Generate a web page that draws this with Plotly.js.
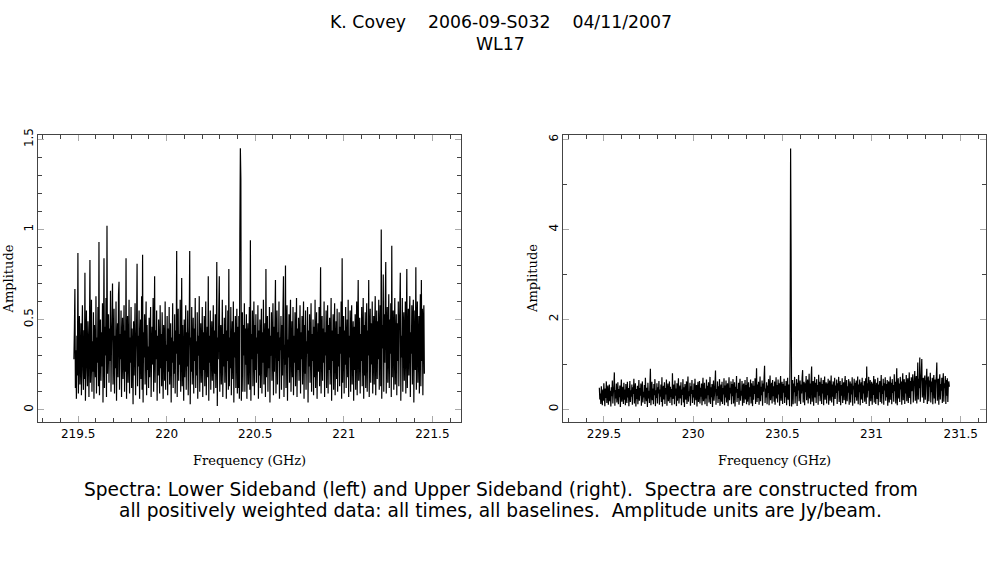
<!DOCTYPE html>
<html>
<head>
<meta charset="utf-8">
<script src="https://cdn.plot.ly/plotly-3.0.1.min.js"></script>
<style>html,body{margin:0;padding:0;background:#fff;}#chart{width:987px;height:567px;}</style>
</head>
<body>
<div id="chart"></div>
<script>
// Lower sideband channel grid (GHz)
const lsbStart = 219.476;
const lsbStep = 0.002831;
// Lower sideband amplitudes (Jy/beam)
const lsbAmp = [
.28,.45,.67,.12,.33,.06,.41,.19,.87,.09,.35,.52,.14,.27,.48,.08,.39,.58,.22,.11,.44,.17,.76,.05,.31,.55,.25,.13,.49,.36,.07,.42,.83,.15,.29,.61,.10,.38,.21,.54,.06,.47,.32,.18,.63,.09,.40,.26,.57,.13,
.93,.08,.36,.50,.16,.43,.24,.59,.04,.34,.84,.12,.46,.30,.62,.07,1.02,.20,.39,.53,.15,.45,.27,.66,.10,.37,.49,.70,.14,.31,.56,.09,.41,.23,.60,.05,.35,.48,.18,.64,.71,.11,.42,.28,.55,.07,.38,.51,.17,.33,
.58,.10,.44,.21,.84,.06,.37,.52,.15,.30,.61,.09,.40,.26,.57,.12,.45,.34,.03,.49,.19,.38,.59,.08,.32,.46,.81,.13,.41,.24,.55,.06,.36,.50,.17,.63,.11,.86,.04,.43,.29,.53,.14,.39,.60,.08,.47,.22,.35,.12,
.51,.18,.40,.57,.07,.33,.46,.25,.62,.10,.37,.74,.15,.44,.28,.55,.05,.41,.19,.50,.34,.09,.58,.23,.42,.13,.54,.31,.06,.47,.39,.16,.60,.11,.36,.27,.52,.08,.45,.21,.57,.14,.33,.48,.04,.40,.26,.59,.12,.38,
.20,.53,.09,.44,.31,.88,.07,.39,.56,.16,.42,.25,.61,.10,.35,.73,.13,.47,.29,.05,.50,.18,.37,.58,.11,.43,.24,.55,.08,.34,.46,.88,.03,.40,.21,.57,.14,.32,.51,.09,.45,.27,.62,.12,.38,.19,.54,.06,.41,.30,
.63,.10,.36,.48,.15,.29,.57,.07,.43,.22,.52,.13,.39,.60,.08,.33,.46,.18,.74,.05,.41,.26,.55,.11,.37,.49,.16,.31,.58,.09,.44,.20,.53,.12,.35,.82,.02,.40,.28,.56,.74,.10,.38,.47,.14,.30,.61,.07,.42,.24,
.51,.15,.36,.58,.06,.44,.27,.55,.11,.78,.13,.40,.23,.57,.08,.35,.49,.17,.60,.04,.43,.29,.52,.12,.38,.56,.09,.46,.12,.52,.06,.98,1.45,1.28,.05,.37,.54,.10,.47,.30,.59,.10,.45,.25,.53,.06,.39,.48,.14,.32,
.57,.11,.94,.05,.42,.28,.55,.13,.36,.60,.08,.47,.22,.53,.15,.40,.31,.58,.06,.44,.19,.50,.12,.37,.56,.09,.43,.26,.61,.14,.34,.48,.07,.78,.18,.39,.52,.10,.45,.23,.57,.04,.41,.30,.54,.16,.35,.59,.08,.46,
.21,.50,.72,.09,.38,.55,.14,.43,.27,.60,.06,.40,.33,.52,.11,.47,.19,.56,.74,.07,.36,.25,.80,.12,.44,.58,.05,.39,.29,.53,.15,.46,.61,.10,.34,.49,.18,.57,.08,.41,.26,.54,.13,.37,.62,.07,.45,.22,.51,.16,
.35,.58,.09,.43,.28,.52,.14,.40,.60,.06,.47,.20,.55,.11,.38,.31,.57,.04,.44,.24,.53,.15,.36,.59,.10,.42,.27,.50,.08,.46,.18,.61,.12,.39,.54,.06,.33,.48,.21,.57,.13,.41,.79,.09,.37,.52,.16,.45,.26,.60,
.07,.43,.30,.55,.12,.38,.58,.09,.47,.22,.51,.14,.36,.62,.05,.44,.27,.53,.11,.40,.59,.08,.35,.49,.17,.56,.10,.42,.24,.54,.13,.46,.31,.60,.06,.84,.15,.39,.52,.09,.44,.25,.57,.12,.37,.50,.18,.61,.07,.41,
.29,.55,.10,.43,.58,.14,.36,.49,.05,.46,.22,.53,.11,.40,.60,.08,.45,.72,.16,.34,.51,.09,.42,.27,.57,.13,.38,.62,.06,.47,.19,.54,.12,.36,.59,.10,.44,.30,.72,.07,.41,.56,.15,.48,.25,.60,.09,.39,.52,.14,
.45,.63,.08,.37,.55,.17,.49,.28,.61,.11,.42,.58,.13,1.00,.06,.47,.34,.75,.10,.53,.26,.60,.82,.09,.44,.57,.15,.39,.64,.12,.50,.31,.59,.07,.91,.18,.46,.55,.11,.40,.62,.14,.36,.53,.08,.48,.27,.60,.13,.44,
.57,.76,.05,.41,.29,.62,.10,.47,.54,.16,.38,.60,.09,.45,.78,.12,.35,.56,.19,.50,.63,.07,.43,.31,.58,.14,.48,.61,.04,.39,.55,.22,.79,.11,.46,.60,.15,.37,.52,.09,.44,.64,.13,.72,.27,.56,.08,.49,.58,.20
];
// Upper sideband channel grid (GHz)
const usbStart = 229.474;
const usbStep = 0.002807;
// Upper sideband amplitudes (Jy/beam)
const usbAmp = [
.48,.22,.35,.12,.51,.28,.09,.44,.19,.58,.31,.07,.46,.25,.62,.14,.39,.53,.10,.33,.55,.18,.41,.06,.49,.29,.64,.13,.37,.52,.82,.08,.43,.24,.57,.15,.34,.60,.11,.45,.27,.53,.05,.40,.66,.17,.36,.50,.12,.59,
.21,.44,.09,.56,.32,.14,.61,.26,.47,.07,.38,.63,.16,.42,.28,.55,.10,.49,.34,.68,.13,.40,.58,.06,.45,.23,.52,.11,.36,.65,.19,.47,.30,.57,.08,.43,.62,.15,.39,.26,.54,.12,.70,.33,.18,.48,.05,.59,.24,.41,
.14,.53,.90,.09,.37,.61,.20,.46,.11,.56,.31,.67,.07,.42,.25,.58,.13,.49,.35,.63,.10,.44,.28,.55,.16,.71,.06,.39,.52,.22,.60,.12,.47,.33,.66,.08,.41,.57,.18,.36,.62,.14,.50,.27,.45,.09,.80,.23,.38,.55,
.11,.64,.30,.46,.07,.58,.19,.42,.69,.13,.36,.53,.24,.60,.09,.44,.32,.67,.15,.49,.05,.56,.38,.21,.62,.12,.47,.73,.17,.40,.29,.59,.08,.51,.34,.65,.14,.43,.26,.57,.10,.68,.37,.20,.54,.06,.45,.61,.16,.39,
.63,.13,.48,.28,.57,.09,.42,.70,.18,.35,.59,.11,.46,.24,.66,.07,.52,.31,.60,.15,.40,.72,.12,.49,.27,.56,.05,.43,.64,.19,.34,.58,.86,.10,.45,.30,.62,.14,.51,.23,.67,.08,.39,.55,.17,.61,.12,.47,.33,.69,
.09,.53,.26,.64,.15,.44,.58,.07,.40,.71,.20,.48,.35,.62,.11,.56,.29,.67,.13,.42,.60,.06,.50,.37,.74,.16,.45,.25,.59,.10,.52,.68,.19,.41,.30,.63,.08,.47,.57,.14,.36,.65,.22,.54,.11,.72,.17,.43,.60,.09,
.49,.28,.66,.13,.58,.40,.07,.63,.21,.52,.34,.69,.12,.47,.91,.16,.55,.25,.61,.10,.44,.73,.18,.50,.31,.64,.08,.57,.39,.70,.97,.14,.46,.26,.60,.11,.53,.36,.67,.09,.48,.75,.20,.42,.59,.13,.65,.29,.51,.17,
.62,.10,.45,.71,.24,.54,.15,.66,.33,.58,.08,.49,.74,.19,.43,.61,.12,.56,.37,.68,.14,.52,.27,.63,.09,.47,.70,.21,.55,.32,.07,1.41,5.80,3.43,.06,.48,.65,.11,.57,.38,.72,.13,.51,.29,.67,.07,.59,.42,.76,.18,
.46,.64,.12,.55,.35,.70,.87,.15,.49,.61,.09,.58,.38,.74,.20,.53,.66,.13,.44,.79,.24,.57,.11,.68,.95,.17,.50,.63,.08,.46,.72,.26,.59,.14,.67,.39,.54,.10,.77,.30,.61,.18,.48,.70,.12,.56,.35,.65,.09,.52,
.73,.21,.45,.60,.13,.57,.31,.68,.10,.50,.64,.19,.42,.75,.15,.55,.28,.62,.08,.47,.70,.23,.53,.36,.66,.12,.58,.41,.72,.16,.49,.63,.09,.54,.30,.69,.14,.46,.60,.20,.56,.74,.11,.43,.65,.18,.51,.37,.67,.10,
.48,.62,.15,.57,.33,.71,.08,.52,.44,.68,.13,.59,.27,.64,.19,.49,.73,.11,.55,.38,.66,.09,.47,.60,.22,.70,.14,.53,.35,.63,.17,.50,.69,.12,.95,.26,.58,.41,.72,.07,.54,.65,.18,.46,.61,.10,.57,.32,.74,.15,
.51,.67,.12,.44,.59,.23,.70,.09,.55,.38,.63,.16,.48,.76,.13,.52,.34,.68,.10,.58,.42,.71,.19,.56,.27,.65,.08,.50,.62,.15,.46,.73,.21,.59,.11,.67,.36,.54,.17,.78,.40,.61,.13,.55,.91,.09,.49,.69,.24,.57,
.16,.72,.44,.62,.10,.58,.80,.20,.53,.67,.12,.60,.35,.76,.18,.55,.69,.14,.49,.82,.25,.63,.11,.71,.40,.57,.78,.15,.52,.66,.85,.19,.60,.74,.13,.56,1.04,.22,.68,.47,1.15,.17,.63,.79,1.12,.26,.58,.70,.14,.61,
.75,.21,.55,.67,.90,.12,.59,.73,.18,.64,.50,.81,.15,.62,.38,.70,.11,.57,.76,.24,.66,.13,.59,.72,1.04,.19,.53,.68,.10,.63,.78,.22,.56,.41,.70,.14,.61,.80,.17,.58,.47,.74,.12,.65,.30,.69,.16,.55,.62,.50
];
const titleLines = ['K. Covey\u00a0\u00a0\u00a0\u00a02006-09-S032\u00a0\u00a0\u00a0\u00a004/11/2007', 'WL17'];
const captionLines = ['Spectra: Lower Sideband (left) and Upper Sideband (right).\u00a0\u00a0Spectra are constructed from',
  'all positively weighted data: all times, all baselines.\u00a0\u00a0Amplitude units are Jy/beam.'];
const xLabel = 'Frequency (GHz)';
const yLabel = 'Amplitude';

const lsbFreq = lsbAmp.map((_, i) => lsbStart + i * lsbStep);
const usbFreq = usbAmp.map((_, i) => usbStart + i * usbStep);

const W = 987, H = 567;
const px = v => v / W, py = v => 1 - v / H;

const lineStyle = {color: '#000', width: 1.2, simplify: false};
const traces = [
  {x: lsbFreq, y: lsbAmp, type: 'scatter', mode: 'lines', line: lineStyle, xaxis: 'x', yaxis: 'y', hoverinfo: 'skip'},
  {x: usbFreq, y: usbAmp, type: 'scatter', mode: 'lines', line: lineStyle, xaxis: 'x2', yaxis: 'y2', hoverinfo: 'skip'}
];

const tickFont = {family: 'DejaVu Sans', size: 12, color: '#000'};
function axis(extra) {
  return Object.assign({
    showline: true, linecolor: '#444', linewidth: 1, mirror: 'ticks',
    ticks: 'inside', ticklen: 6, tickcolor: '#aaa', tickwidth: 1,
    showgrid: false, zeroline: false, tickfont: tickFont, fixedrange: true
  }, extra);
}
const minorX = {dtick: 0.1, ticks: 'inside', ticklen: 4, tickcolor: '#444', showgrid: false};
const yTop = py(135), yBot = py(422.3);
const labelFont = {family: 'DejaVu Serif', size: 13, color: '#000'};
const textFont = {family: 'DejaVu Sans', size: 17.3, color: '#000'};
const capFont = {family: 'DejaVu Sans', size: 18.6, color: '#000'};
function note(text, x, y, font, angle) {
  return {text: text, x: px(x), y: py(y), xref: 'paper', yref: 'paper', showarrow: false,
    xanchor: 'center', yanchor: 'middle', textangle: angle || 0, font: font};
}
const layout = {
  width: W, height: H,
  margin: {l: 0, r: 0, t: 0, b: 0},
  paper_bgcolor: '#fff', plot_bgcolor: '#fff',
  showlegend: false,
  xaxis: axis({domain: [px(38.3), px(460.7)], range: [219.275, 221.66], tick0: 219.5, dtick: 0.5, anchor: 'y', minor: minorX}),
  yaxis: axis({domain: [yBot, yTop], range: [-0.07, 1.524], tick0: 0, dtick: 0.5, tickangle: -90, anchor: 'x',
    minor: {dtick: 0.1, ticks: 'inside', ticklen: 4, tickcolor: '#444', showgrid: false}}),
  xaxis2: axis({domain: [px(563.3), px(985.7)], range: [229.272, 231.64], tick0: 229.5, dtick: 0.5, anchor: 'y2', minor: minorX}),
  yaxis2: axis({domain: [yBot, yTop], range: [-0.29, 6.1], tick0: 0, dtick: 2, tickangle: -90, anchor: 'x2',
    minor: {dtick: 1, ticks: 'inside', ticklen: 4, tickcolor: '#444', showgrid: false}}),
  annotations: [
    note(titleLines[0], 500.5, 22, textFont),
    note(titleLines[1], 500.5, 44, textFont),
    note(captionLines[0], 500.5, 489, capFont),
    note(captionLines[1], 500.5, 510, capFont),
    note(yLabel, 7.5, 279, labelFont, -90),
    note(yLabel, 532, 279, labelFont, -90),
    note(xLabel, 249.2, 460, labelFont),
    note(xLabel, 774.5, 460, labelFont)
  ]
};
Plotly.newPlot('chart', traces, layout, {staticPlot: true, displayModeBar: false});
</script>
</body>
</html>
